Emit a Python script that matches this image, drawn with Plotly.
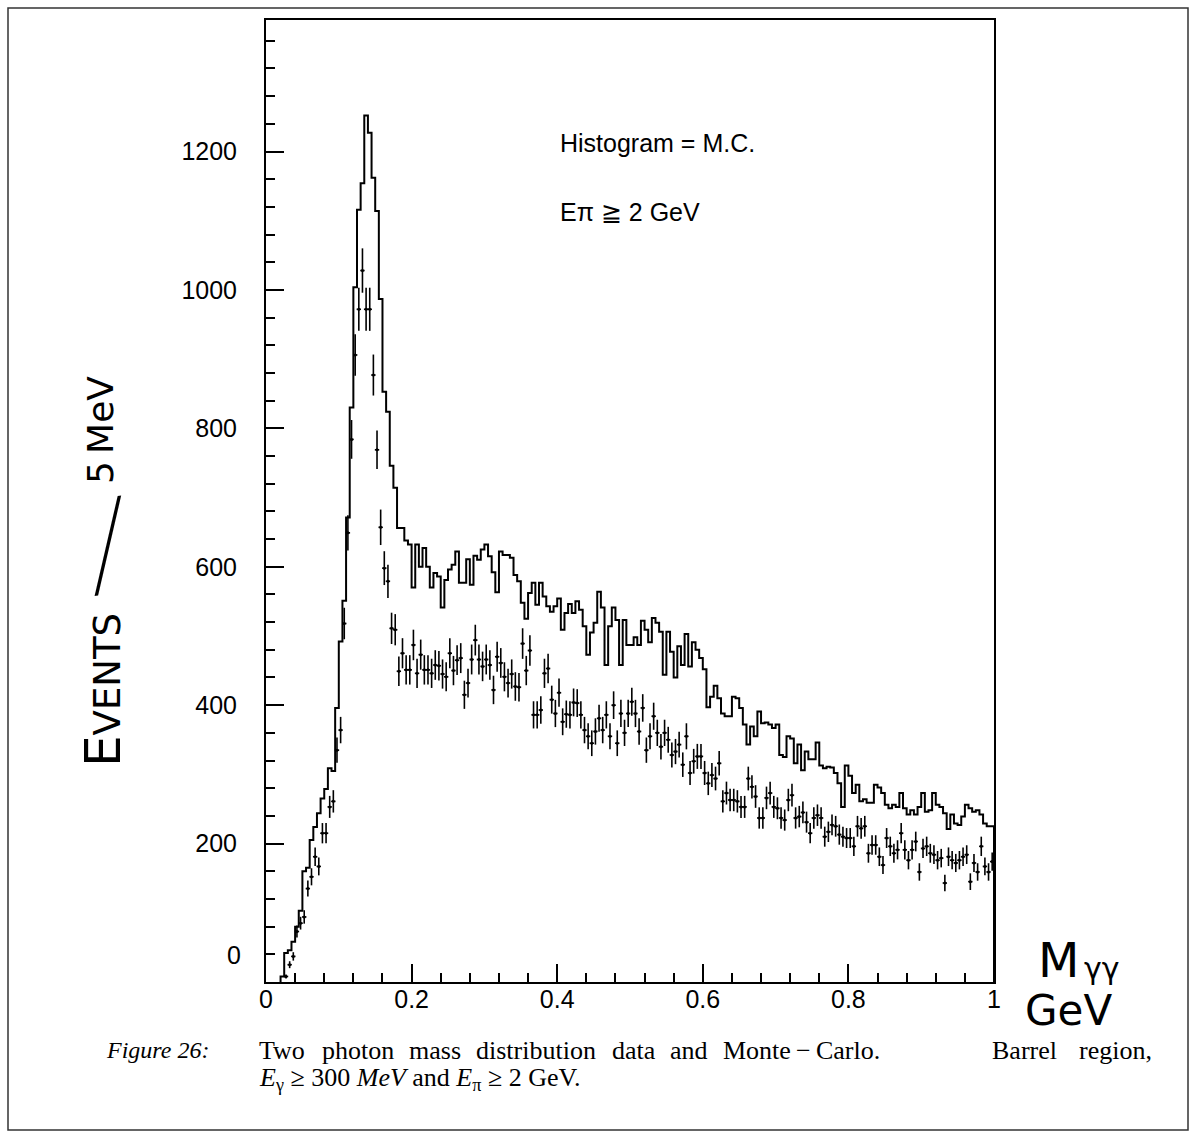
import plotly.graph_objects as go

# 5 MeV bins from 0 to 1 GeV
BIN_W = 0.005
N_BINS = 200
bin_lo = [round(k * BIN_W, 4) for k in range(N_BINS)]
bin_mid = [round((k + 0.5) * BIN_W, 4) for k in range(N_BINS)]

# Monte-Carlo histogram, events per bin
mc_counts = [
    0, 0, 0, 0, 8, 42, 46, 58, 80, 103,
    160, 165, 205, 224, 244, 265, 279, 309, 305, 396,
    492, 551, 671, 830, 1004, 1116, 1154, 1252, 1227, 1162,
    1114, 987, 853, 824, 746, 714, 656, 656, 638, 632,
    570, 632, 600, 627, 600, 570, 591, 586, 541, 581,
    596, 603, 622, 577, 577, 611, 574, 616, 610, 625,
    632, 615, 592, 563, 622, 617, 617, 613, 588, 579,
    548, 525, 562, 577, 545, 577, 557, 543, 535, 543,
    554, 509, 533, 546, 533, 550, 538, 514, 473, 505,
    519, 564, 541, 458, 514, 541, 523, 458, 523, 487,
    487, 498, 487, 522, 509, 491, 526, 519, 506, 444,
    506, 477, 440, 485, 458, 503, 456, 491, 480, 468,
    452, 397, 412, 428, 410, 388, 384, 384, 412, 410,
    396, 372, 343, 369, 355, 391, 374, 375, 372, 367,
    372, 328, 325, 355, 352, 316, 343, 306, 333, 322,
    322, 346, 313, 309, 311, 310, 302, 287, 253, 313,
    298, 273, 285, 261, 264, 259, 259, 285, 281, 273,
    256, 251, 256, 253, 273, 251, 242, 248, 242, 253,
    273, 246, 248, 273, 256, 253, 244, 221, 242, 229,
    227, 239, 256, 251, 246, 248, 242, 229, 225, 225,
]

# Measured two-photon mass spectrum, events per bin (None = empty)
data_counts = [
    None, None, None, None, None, 8, 25, 37, 73, 85,
    94, 135, 152, 181, 167, 215, 215, 253, 261, 335,
    364, 518, 649, 784, 906, 972, 1028, 972, 972, 877,
    769, 657, 598, 579, 511, 509, 449, 475, 451, 451,
    487, 446, 473, 451, 451, 446, 458, 457, 445, 441,
    475, 450, 465, 468, 415, 432, 466, 494, 466, 456,
    466, 458, 422, 470, 461, 441, 432, 445, 427, 426,
    489, 450, 479, 386, 386, 393, 446, 453, 408, 388,
    418, 376, 387, 386, 404, 403, 386, 364, 355, 345,
    362, 381, 364, 386, 355, 400, 345, 388, 360, 388,
    405, 388, 362, 396, 335, 355, 384, 360, 340, 360,
    350, 328, 333, 343, 314, 355, 302, 319, 326, 326,
    302, 287, 299, 294, 316, 261, 273, 263, 263, 261,
    253, 253, 294, 282, 268, 237, 237, 266, 273, 253,
    251, 237, 234, 263, 270, 237, 239, 245, 231, 215,
    237, 241, 237, 210, 217, 227, 225, 213, 210, 208,
    208, 196, 225, 222, 225, 186, 198, 198, 181, 169,
    208, 196, 186, 191, 215, 191, 176, 191, 203, 159,
    193, 196, 186, 184, 176, 179, 143, 181, 176, 172,
    176, 181, 184, 145, 172, 159, 196, 167, 159, 174,
]

x_tick_vals = [0, 0.2, 0.4, 0.6, 0.8, 1.0]
x_tick_text = ["0", "0.2", "0.4", "0.6", "0.8", "1"]
y_tick_vals = [200, 400, 600, 800, 1000, 1200]
y_tick_text = ["200", "400", "600", "800", "1000", "1200"]

# page geometry (pixels)
W, H = 1196, 1138
L, R, T, B = 266, 994, 20, 982


def px(xp):
    return (xp - L) / (R - L)


def py(yp):
    return (B - yp) / (B - T)


first = next(i for i, v in enumerate(mc_counts) if v)
hist_x = [bin_lo[first]] + bin_lo[first:] + [1.0, 1.0]
hist_y = [0] + mc_counts[first:] + [mc_counts[-1], 0]

pts = [(m, v) for m, v in zip(bin_mid, data_counts) if v is not None]

fig = go.Figure()
fig.add_trace(go.Scatter(
    x=hist_x, y=hist_y, mode="lines", line_shape="hv",
    line=dict(color="black", width=2), hoverinfo="skip",
))
fig.add_trace(go.Scatter(
    x=[p[0] for p in pts], y=[p[1] for p in pts], mode="markers",
    marker=dict(color="black", size=3),
    error_y=dict(type="sqrt", color="black", thickness=1.6, width=0),
    error_x=dict(type="constant", value=0.003, color="black", thickness=1.6, width=0),
))

tick_font = dict(family="Liberation Sans", size=25, color="black")
axis_common = dict(
    showline=True, linecolor="black", linewidth=2, mirror=True,
    ticks="inside", tickcolor="black", tickwidth=2, ticklen=18,
    showgrid=False, zeroline=False, tickfont=tick_font,
)

fig.update_xaxes(
    range=[0, 1], tickmode="array", tickvals=x_tick_vals, ticktext=x_tick_text,
    minor=dict(dtick=0.04, tick0=0, ticks="inside", ticklen=9, tickwidth=2,
               tickcolor="black", showgrid=False),
    ticklabelstandoff=-6,
    **axis_common,
)
fig.update_yaxes(
    range=[0, 1390], tickmode="array", tickvals=y_tick_vals, ticktext=y_tick_text,
    minor=dict(dtick=40, tick0=0, ticks="inside", ticklen=9, tickwidth=2,
               tickcolor="black", showgrid=False),
    ticklabelstandoff=22,
    **axis_common,
)

ann = []
# axis zero label, raised clear of the x axis
ann.append(dict(x=px(243), y=py(955), xref="paper", yref="paper", text="0",
                xanchor="right", yanchor="middle", showarrow=False, font=tick_font))
# in-plot legend text
ann.append(dict(x=px(558), y=py(143), xref="paper", yref="paper",
                text="Histogram = M.C.", xanchor="left", yanchor="middle",
                showarrow=False, font=tick_font))
ann.append(dict(x=px(558), y=py(212), xref="paper", yref="paper",
                text="E\u03c0 \u2267 2 GeV", xanchor="left", yanchor="middle",
                showarrow=False, font=tick_font))

# hand-lettered y axis title: "Events / 5 MeV"
hand = dict(family="DejaVu Sans", color="black")
ann.append(dict(x=px(103), y=py(690), xref="paper", yref="paper",
                text="E<span style='font-size:37px'>VENTS</span>",
                textangle=-90, xanchor="center", yanchor="middle", showarrow=False,
                font=dict(size=50, **hand)))
ann.append(dict(x=px(108), y=py(544), xref="paper", yref="paper", text="/",
                textangle=-8, xanchor="center", yanchor="middle", showarrow=False,
                font=dict(family="Roboto", size=124, weight=100, color="black")))
ann.append(dict(x=px(101), y=py(430), xref="paper", yref="paper",
                text="5\u2009MeV",
                textangle=-90, xanchor="center", yanchor="middle", showarrow=False,
                font=dict(size=36, **hand)))

# hand-lettered x axis title
ann.append(dict(x=px(1058), y=py(960), xref="paper", yref="paper", text="M",
                xanchor="center", yanchor="middle", showarrow=False,
                font=dict(size=48, **hand)))
ann.append(dict(x=px(1102), y=py(968), xref="paper", yref="paper", text="\u03b3\u03b3",
                xanchor="center", yanchor="middle", showarrow=False,
                font=dict(size=30, **hand)))
ann.append(dict(x=px(1068), y=py(1010), xref="paper", yref="paper", text="GeV",
                xanchor="center", yanchor="middle", showarrow=False,
                font=dict(size=42, **hand)))

# caption
serif = dict(family="Liberation Serif", size=26, color="black")
CAP_Y1, CAP_Y2 = 1050, 1079
ann.append(dict(x=px(104), y=py(CAP_Y1), xref="paper", yref="paper",
                text="<i>Figure 26:</i>", xanchor="left", yanchor="middle",
                showarrow=False, font=dict(family="Liberation Serif", size=24,
                                           color="black")))
caption_words = [
    (257, "Two"), (320, "photon"), (407, "mass"), (474, "distribution"),
    (610, "data"), (668, "and"), (721, "Monte\u2009\u2212\u2009Carlo."),
    (990, "Barrel"), (1077, "region,"),
]
for xw, word in caption_words:
    ann.append(dict(x=px(xw), y=py(CAP_Y1), xref="paper", yref="paper", text=word,
                    xanchor="left", yanchor="middle", showarrow=False, font=serif))
ann.append(dict(x=px(257), y=py(CAP_Y2), xref="paper", yref="paper",
                text="<i>E</i><sub>\u03b3</sub> \u2265 300 <i>MeV</i> and "
                     "<i>E</i><sub>\u03c0</sub> \u2265 2 GeV.",
                xanchor="left", yanchor="middle", showarrow=False, font=serif))

fig.update_layout(
    width=W, height=H,
    margin=dict(l=L, r=W - R, t=T, b=H - B, pad=0),
    paper_bgcolor="white", plot_bgcolor="white",
    showlegend=False,
    annotations=ann,
    shapes=[dict(type="rect", xref="paper", yref="paper",
                 x0=px(8), x1=px(1188), y0=py(1130), y1=py(8),
                 line=dict(color="#333333", width=1.5))],
)

fig.write_html("out.html")
